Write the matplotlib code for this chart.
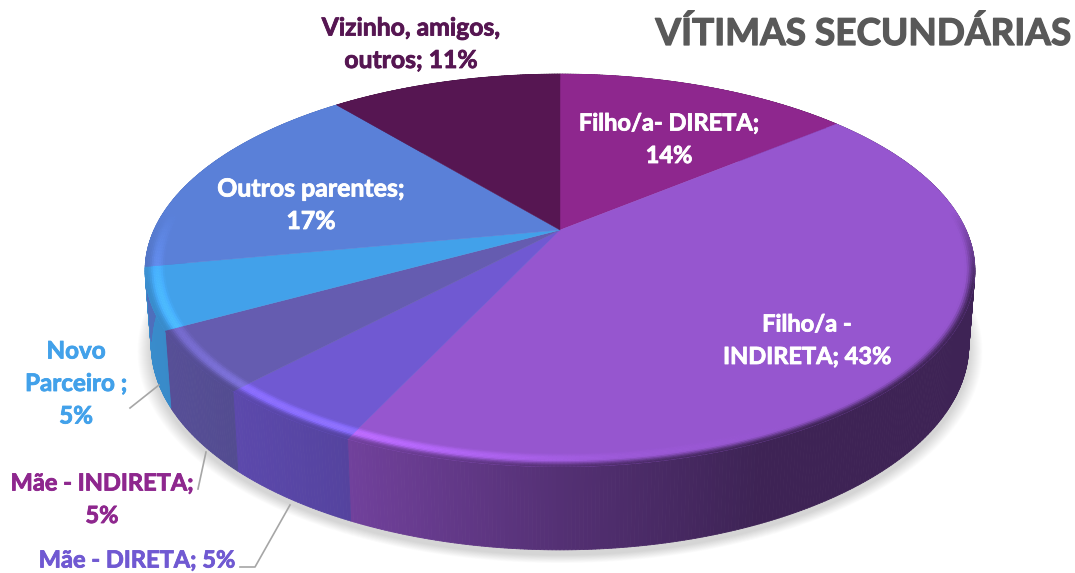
import numpy as np
import matplotlib
matplotlib.use("Agg")
import matplotlib.pyplot as plt
import matplotlib.patheffects as pe
from matplotlib.collections import PolyCollection
from matplotlib.colors import to_rgb

categories = ["Filho/a- DIRETA", "Filho/a - INDIRETA", "Mãe - DIRETA", "Mãe - INDIRETA",
              "Novo Parceiro", "Outros parentes", "Vizinho, amigos, outros"]
values = [14, 43, 5, 5, 5, 17, 11]
colors = ["#8E278E", "#9656CF", "#7059D2", "#655CB0", "#42A1EA", "#5A80D8", "#561652"]

title = "VÍTIMAS SECUNDÁRIAS"

# pixel geometry of the tilted disc (perspective fit to the reference)
CX = 560
TOP = dict(a=406, c=188, cy=230)
BOT = dict(a=400, c=196, cy=303)
B = 0.206


def front(r, ang, g):
    # angle measured clockwise from the back of the disc
    X = r * np.sin(ang)
    Y = -r * np.cos(ang)
    d = 1 - B * Y
    return CX + g["a"] * X / d, g["cy"] + g["c"] * Y / d


fig = plt.figure(figsize=(10.75, 5.73), dpi=100)
ax = fig.add_axes([0, 0, 1, 1])
ax.set_xlim(0, 1075)
ax.set_ylim(573, 0)
ax.axis("off")

edges = 2 * np.pi * np.concatenate(([0], np.cumsum(values))) / np.sum(values)
full = np.linspace(0, 2 * np.pi, 400)

# soft shadow under the disc
for k in range(14):
    sx, sy = front(1, full, BOT)
    grow = 1 + (14 - k) * 0.0024
    xs = CX + (sx - CX) * grow
    ys = 303 + (sy - 303) * grow + 5
    ax.fill(xs, ys, color="k", alpha=0.012, lw=0, zorder=1)


def side_shade(x):
    return np.interp(x, [145, 340, 560, 760, 975], [0.87, 0.76, 0.56, 0.41, 0.41])


def rim_light(x):
    return np.interp(x, [145, 240, 340, 620, 800], [0.14, 0.26, 0.30, 0.05, 0.0])


# side wall
quads = []
quad_cols = []
for i in range(len(values)):
    base = np.array(to_rgb(colors[i]))
    n = max(int(values[i] * 8), 8)
    ang = np.linspace(edges[i], edges[i + 1], n + 1)
    x0, y0 = front(1, ang, TOP)
    x1, y1 = front(1, ang, BOT)
    for j in range(n):
        quads.append([(x0[j], y0[j]), (x0[j + 1], y0[j + 1]), (x1[j + 1], y1[j + 1]), (x1[j], y1[j])])
        quad_cols.append(base * side_shade((x0[j] + x0[j + 1]) / 2))
ax.add_collection(PolyCollection(quads, facecolors=quad_cols, edgecolors=quad_cols, linewidths=0.6, zorder=2))

# top face
for i in range(len(values)):
    ang = np.linspace(edges[i], edges[i + 1], max(int(values[i] * 8), 8))
    x, y = front(1, ang, TOP)
    ax.fill(np.r_[CX, x], np.r_[TOP["cy"], y], color=colors[i], lw=0.3, zorder=3)

# bevel along the rim of the top face
bands = np.linspace(0.955, 1.0, 11)
quads = []
quad_cols = []
for i in range(len(values)):
    base = np.array(to_rgb(colors[i]))
    n = max(int(values[i] * 8), 8)
    ang = np.linspace(edges[i], edges[i + 1], n + 1)
    for b in range(len(bands) - 1):
        t = (b + 0.5) / (len(bands) - 1)
        x0, y0 = front(bands[b], ang, TOP)
        x1, y1 = front(bands[b + 1], ang, TOP)
        for j in range(n):
            xm = (x0[j] + x0[j + 1]) / 2
            Ym = -np.cos((ang[j] + ang[j + 1]) / 2)
            w = np.clip((Ym + 0.1) / 0.4, 0, 1)
            c = base * (1 + rim_light(xm) * w * np.sin(np.pi * np.clip(t / 0.8, 0, 1)))
            s = np.clip((t - 0.5) / 0.5, 0, 1)
            s = s * s * (3 - 2 * s) * w
            c = np.clip(c * (1 - s) + base * side_shade(xm) * s, 0, 1)
            quads.append([(x0[j], y0[j]), (x0[j + 1], y0[j + 1]), (x1[j + 1], y1[j + 1]), (x1[j], y1[j])])
            quad_cols.append(c)
ax.add_collection(PolyCollection(quads, facecolors=quad_cols, edgecolors=quad_cols, linewidths=0.3, zorder=4))

# leader lines
line_col = "#A6A6A6"
ax.plot([130, 159], [408, 385], color=line_col, lw=1.2, zorder=5)
ax.plot([198, 206], [489, 452], color=line_col, lw=1.2, zorder=5)
ax.plot([240, 255, 290], [567, 567, 505], color=line_col, lw=1.2, zorder=5)

# labels
font = dict(family="Lato", weight="bold", ha="center", va="center", zorder=6, linespacing=1.0)
tt = ax.text(863, 34, title, fontsize=26.6, color="#595959", **font)
tt.set_path_effects([pe.withStroke(linewidth=0.9, foreground="#595959")])


def label(x, lines, col, y0, size=17):
    for k, line in enumerate(lines):
        t = ax.text(x, y0 + k * 32.5, line, fontsize=size, color=col, **font)
        t.set_path_effects([pe.withStroke(linewidth=0.6, foreground=col)])


label(411, ["Vizinho, amigos,", "outros; 11%"], "#561652", 28, 17.8)
label(669, ["Filho/a- DIRETA;", "14%"], "white", 123)
label(807, ["Filho/a -", "INDIRETA; 43%"], "white", 324)
label(311, ["Outros parentes;", "17%"], "white", 189, 17.9)
label(76, ["Novo", "Parceiro ;", "5%"], "#42A1EA", 351, 17.4)
label(102, ["Mãe - INDIRETA;", "5%"], "#8E278E", 483)
label(137, ["Mãe - DIRETA; 5%"], "#7059D2", 560)

fig.savefig("out.png", dpi=100)
